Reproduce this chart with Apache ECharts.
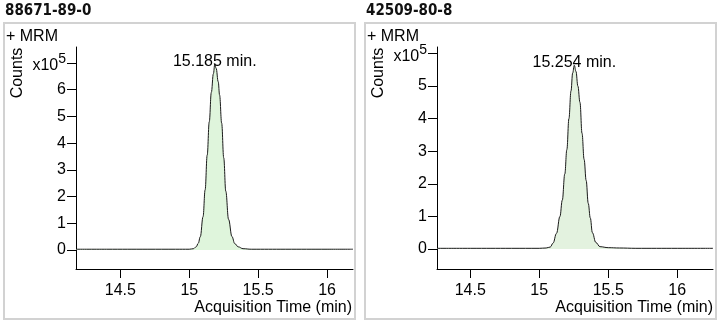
<!DOCTYPE html>
<html>
<head>
<meta charset="utf-8">
<script src="https://cdn.jsdelivr.net/npm/echarts@6/dist/echarts.min.js"></script>
<style>
  html, body { margin: 0; padding: 0; background: #fff; }
  #chart { width: 722px; height: 322px; }
</style>
</head>
<body>
<div id="chart"></div>
<script>
// Compound identifiers (CAS numbers) shown above each chromatogram
const compoundA = '88671-89-0';
const compoundB = '42509-80-8';
const scanLabel = '+ MRM';

// Chromatogram A: acquisition time (min) and response (counts x 10^5)
const timeA   = [14.178, 14.4, 14.7, 14.9, 15.0, 15.03, 15.05, 15.065, 15.08, 15.1, 15.115, 15.13, 15.145, 15.16, 15.175, 15.185, 15.195, 15.21, 15.22, 15.235, 15.25, 15.265, 15.285, 15.31, 15.33, 15.355, 15.39, 15.45, 15.7, 16.0, 16.188];
const countsA = [0.03, 0.03, 0.03, 0.03, 0.03, 0.05, 0.12, 0.25, 0.5, 1.25, 2.25, 3.55, 4.8, 5.9, 6.6, 6.95, 6.8, 6.3, 5.8, 4.75, 3.45, 2.2, 1.15, 0.5, 0.24, 0.12, 0.05, 0.03, 0.03, 0.03, 0.03];
const apexA = [15.185, 6.95];

// Chromatogram B
const timeB   = [14.259, 14.5, 14.8, 15.0, 15.05, 15.08, 15.1, 15.125, 15.15, 15.167, 15.185, 15.2, 15.215, 15.23, 15.242, 15.254, 15.266, 15.28, 15.295, 15.31, 15.325, 15.34, 15.355, 15.37, 15.385, 15.41, 15.44, 15.5, 15.58, 15.7, 16.0, 16.259];
const countsB = [0.02, 0.02, 0.02, 0.02, 0.03, 0.06, 0.18, 0.48, 1.0, 1.5, 2.3, 3.05, 4.0, 4.85, 5.4, 5.64, 5.45, 5.0, 4.5, 3.55, 2.75, 2.1, 1.4, 0.95, 0.5, 0.2, 0.07, 0.04, 0.03, 0.02, 0.02, 0.02];
const apexB = [15.254, 5.64];

// Axis ticks
const xTicks  = [14.5, 15, 15.5, 16];
const yTicksA = [0, 1, 2, 3, 4, 5, 6, 7];
const yTicksB = [0, 1, 2, 3, 4, 5, 6];

const FONT = '"Liberation Sans", Arial, sans-serif';

function pairs(xs, ys) { return xs.map((x, i) => [x, ys[i]]); }

function xAxisFor(gridIndex, min, max) {
  return {
    type: 'value', gridIndex, min, max,
    axisLine: { show: true, onZero: false, lineStyle: { color: '#000', width: 1 } },
    axisTick: { show: true, length: 9, customValues: xTicks, lineStyle: { color: '#000' } },
    axisLabel: { customValues: xTicks, margin: 14, fontFamily: FONT, fontSize: 16, color: '#000',
                 formatter: v => String(v) },
    splitLine: { show: false }
  };
}

function yAxisFor(gridIndex, min, max, ticks) {
  const top = ticks[ticks.length - 1];
  return {
    type: 'value', gridIndex, min, max,
    axisLine: { show: true, onZero: false, lineStyle: { color: '#000', width: 1 } },
    axisTick: { show: true, length: 9, customValues: ticks, lineStyle: { color: '#000' } },
    axisLabel: {
      customValues: ticks, margin: 10, fontFamily: FONT, fontSize: 16, color: '#000',
      formatter: v => v === top ? '{m|x10}{e|5}' : String(v),
      rich: {
        m: { fontFamily: FONT, fontSize: 16, color: '#000', padding: [6, 0, 0, 0] },
        e: { fontFamily: FONT, fontSize: 14, color: '#000', padding: [0, 0, 7, 0] }
      }
    },
    splitLine: { show: false }
  };
}

// Peak trace with the area under it filled down to zero counts
function traceSeries(idx, data, fill, apex) {
  return {
    type: 'line', xAxisIndex: idx, yAxisIndex: idx,
    data, smooth: 0.4, smoothMonotone: 'x', showSymbol: false, symbol: 'none',
    lineStyle: { color: '#1a1a1a', width: 1 },
    areaStyle: { color: fill, opacity: 1 },
    markPoint: {
      silent: true,
      symbol: 'circle', symbolSize: 0,
      itemStyle: { color: '#000' },
      label: {
        show: true, position: 'top', distance: -5, opacity: 1,
        fontFamily: FONT, fontSize: 16, color: '#000',
        formatter: p => p.data.coord[0].toFixed(3) + ' min.'
      },
      data: [{ coord: apex }]
    },
    silent: true, z: 2
  };
}

function panelDecor(x0, title) {
  return [
    { type: 'rect', shape: { x: x0, y: 23, width: 351, height: 296 },
      style: { fill: 'none', stroke: '#d2d2d2', lineWidth: 2 } },
    { type: 'text', x: x0 + 1, y: 11,
      style: { text: title, font: 'bold 15px "DejaVu Sans Condensed", "DejaVu Sans", sans-serif', fill: '#111', verticalAlign: 'middle' } },
    { type: 'text', x: x0 + 2, y: 37,
      style: { text: scanLabel, font: '16px "Liberation Sans", Arial, sans-serif', fill: '#000', verticalAlign: 'middle' } },
    { type: 'text', x: x0 + 14, y: 73, rotation: Math.PI / 2,
      style: { text: 'Counts', font: '16px "Liberation Sans", Arial, sans-serif', fill: '#000', align: 'center', verticalAlign: 'middle' } },
    { type: 'text', x: x0 + 348, y: 308,
      style: { text: 'Acquisition Time (min)', font: '16px "Liberation Sans", Arial, sans-serif', fill: '#000', align: 'right', verticalAlign: 'middle' } }
  ];
}

const chart = echarts.init(document.getElementById('chart'), null, { renderer: 'canvas' });
chart.setOption({
  animation: false,
  backgroundColor: '#fff',
  grid: [
    { left: 76, top: 47, width: 277, height: 222 },
    { left: 437, top: 47, width: 276, height: 222 }
  ],
  xAxis: [ xAxisFor(0, 14.178, 16.188), xAxisFor(1, 14.259, 16.259) ],
  yAxis: [ yAxisFor(0, -0.71, 7.6, yTicksA), yAxisFor(1, -0.615, 6.2, yTicksB) ],
  series: [
    traceSeries(0, pairs(timeA, countsA), '#dff5dc', apexA),
    traceSeries(1, pairs(timeB, countsB), '#e3f2df', apexB)
  ],
  graphic: [ ...panelDecor(4, compoundA), ...panelDecor(365, compoundB) ]
});
</script>
</body>
</html>
